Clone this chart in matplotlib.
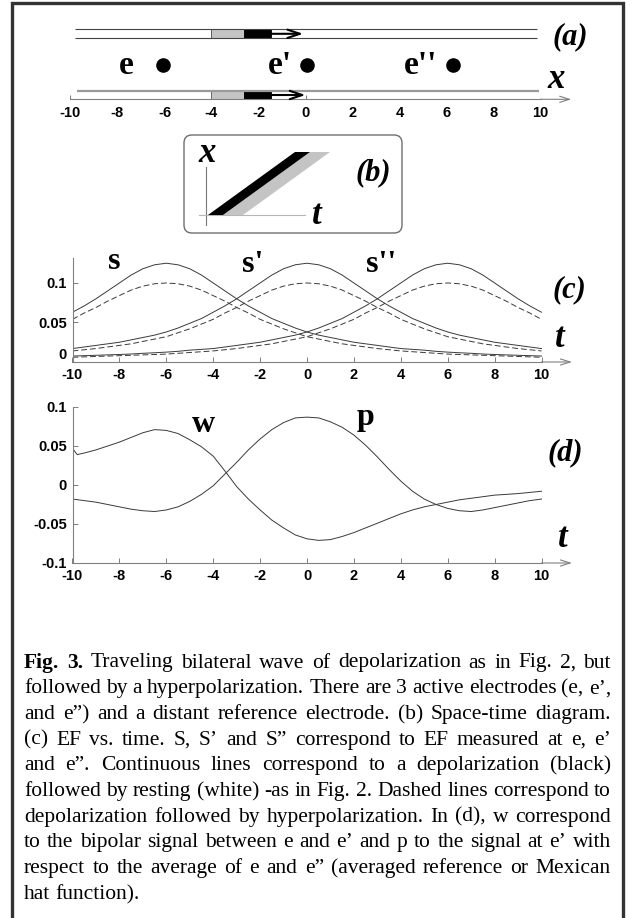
import matplotlib
matplotlib.use("Agg")
import matplotlib.pyplot as plt
from matplotlib.patches import Rectangle, FancyBboxPatch, Polygon

W, H, DPI = 638, 918, 100

# ---- data ----
# (a) cable with travelling wave and electrodes
electrode_x = [-6.07, 0.08, 6.26]
electrode_names = ["e", "e'", "e''"]
wave_gray = (-4.0, -2.63)     # resting / hyperpolarized tail of the front
wave_black = (-2.63, -1.45)   # depolarized part
wave_tip = -0.05

# (c) EF vs time at e, e', e''  (t from -10 to 10 in steps of 0.5)
t_c = [x / 2 for x in range(-20, 21)]
s_solid = [0.063, 0.071, 0.080, 0.090, 0.100, 0.110, 0.118, 0.123, 0.125, 0.123, 0.118,
           0.110, 0.100, 0.090, 0.080, 0.071, 0.063, 0.055, 0.049, 0.043, 0.038, 0.034,
           0.031, 0.028, 0.025, 0.023, 0.021, 0.019, 0.017, 0.016, 0.015, 0.0135, 0.0125,
           0.0117, 0.011, 0.0101, 0.0095, 0.009, 0.0085, 0.008, 0.0075]
s1_solid = [0.017, 0.019, 0.021, 0.023, 0.025, 0.028, 0.031, 0.034, 0.038, 0.043, 0.049,
            0.055, 0.063, 0.071, 0.080, 0.090, 0.100, 0.110, 0.118, 0.123, 0.125, 0.123,
            0.118, 0.110, 0.100, 0.090, 0.080, 0.071, 0.063, 0.055, 0.049, 0.043, 0.038,
            0.034, 0.031, 0.028, 0.025, 0.023, 0.021, 0.019, 0.017]
s2_solid = [0.0075, 0.008, 0.0085, 0.009, 0.0095, 0.0101, 0.011, 0.0117, 0.0125, 0.0135,
            0.015, 0.016, 0.017, 0.019, 0.021, 0.023, 0.025, 0.028, 0.031, 0.034, 0.038,
            0.043, 0.049, 0.055, 0.063, 0.071, 0.080, 0.090, 0.100, 0.110, 0.118, 0.123,
            0.125, 0.123, 0.118, 0.110, 0.100, 0.090, 0.080, 0.071, 0.063]
s_dash = [0.054, 0.062, 0.069, 0.077, 0.084, 0.091, 0.096, 0.099, 0.100, 0.099, 0.096,
          0.091, 0.084, 0.077, 0.069, 0.062, 0.054, 0.048, 0.042, 0.037, 0.032, 0.029,
          0.026, 0.023, 0.021, 0.019, 0.017, 0.0155, 0.014, 0.013, 0.012, 0.011, 0.010,
          0.0095, 0.009, 0.0085, 0.008, 0.0075, 0.007, 0.0065, 0.006]
s1_dash = [0.014, 0.0155, 0.017, 0.019, 0.021, 0.023, 0.026, 0.029, 0.032, 0.037, 0.042,
           0.048, 0.054, 0.062, 0.069, 0.077, 0.084, 0.091, 0.096, 0.099, 0.100, 0.099,
           0.096, 0.091, 0.084, 0.077, 0.069, 0.062, 0.054, 0.048, 0.042, 0.037, 0.032,
           0.029, 0.026, 0.023, 0.021, 0.019, 0.017, 0.0155, 0.014]
s2_dash = [0.006, 0.0065, 0.007, 0.0075, 0.008, 0.0085, 0.009, 0.0095, 0.010, 0.011, 0.012,
           0.013, 0.014, 0.0155, 0.017, 0.019, 0.021, 0.023, 0.026, 0.029, 0.032, 0.037,
           0.042, 0.048, 0.054, 0.062, 0.069, 0.077, 0.084, 0.091, 0.096, 0.099, 0.100,
           0.099, 0.096, 0.091, 0.084, 0.077, 0.069, 0.062, 0.054]

# (d) bipolar (w) and mexican hat (p) signals
t_w = [-10, -9.8] + [x / 2 for x in range(-19, 21)]
w = [0.047, 0.039, 0.041, 0.045, 0.050, 0.055, 0.061, 0.067, 0.071, 0.070, 0.066, 0.058,
     0.049, 0.037, 0.018, -0.002, -0.018, -0.032, -0.045, -0.055, -0.064, -0.069, -0.071,
     -0.070, -0.066, -0.061, -0.055, -0.049, -0.043, -0.037, -0.032, -0.028, -0.025, -0.022,
     -0.019, -0.017, -0.015, -0.013, -0.012, -0.011, -0.0095, -0.008]
t_p = [x / 2 for x in range(-20, 21)]
p = [-0.018, -0.020, -0.022, -0.025, -0.028, -0.031, -0.033, -0.034, -0.032, -0.028, -0.021,
     -0.012, -0.001, 0.014, 0.029, 0.045, 0.059, 0.071, 0.080, 0.086, 0.087, 0.086, 0.081,
     0.074, 0.064, 0.051, 0.036, 0.020, 0.005, -0.008, -0.018, -0.025, -0.030, -0.033,
     -0.034, -0.032, -0.029, -0.026, -0.023, -0.020, -0.018]

caption = [
    "Fig. 3. Traveling bilateral wave of depolarization as in Fig. 2, but",
    "followed by a hyperpolarization. There are 3 active electrodes (e, e\u2019,",
    "and e\u201d) and a distant reference electrode.  (b) Space-time diagram.",
    "(c) EF vs. time.  S, S\u2019 and S\u201d correspond to EF measured at e, e\u2019",
    "and e\u201d.  Continuous lines correspond to a depolarization (black)",
    "followed by resting (white) -as in Fig. 2. Dashed lines correspond to",
    "depolarization followed by hyperpolarization. In (d), w correspond",
    "to the bipolar signal between e and e\u2019 and p to the signal at e\u2019 with",
    "respect to the average of e and e\u201d (averaged reference or Mexican",
    "hat function).",
]

plt.rcParams["font.family"] = ["Liberation Sans", "DejaVu Sans"]
plt.rcParams["axes.unicode_minus"] = False
SERIF = "Liberation Serif"
LINE = "#3a3a3a"
AXC = "#808080"
TICK_SIZE = 10.5

fig = plt.figure(figsize=(W / DPI, H / DPI), dpi=DPI)


def px_axes(x0, y0, x1, y1):
    return fig.add_axes([x0 / W, 1 - y1 / H, (x1 - x0) / W, (y1 - y0) / H])


def axis_arrow(ax, y, x_end=11.3):
    ax.annotate("", xy=(x_end, y), xytext=(10, y), annotation_clip=False,
                arrowprops=dict(arrowstyle="->,head_length=0.7,head_width=0.22",
                                color=AXC, lw=0.8, shrinkA=0, shrinkB=0))


def style_axes(ax):
    for side in ("top", "right"):
        ax.spines[side].set_visible(False)
    for side in ("left", "bottom"):
        ax.spines[side].set_color(AXC)
        ax.spines[side].set_linewidth(0.8)
    ax.tick_params(direction="in", length=3.5, width=0.7, color=AXC,
                   labelsize=TICK_SIZE, pad=4)
    for lab in ax.get_xticklabels() + ax.get_yticklabels():
        lab.set_fontweight("bold")


# outer frame
fig.add_artist(Rectangle((12 / W, -0.05), (623 - 12) / W, 1.05 - 3 / H,
                         transform=fig.transFigure, fill=False, ec="#333333", lw=2.4))

# ---------------- (a) ----------------
ax_a = px_axes(70.4, 15, 540.7, 99.3)
ax_a.set_xlim(-10, 10)
ax_a.set_ylim(99.3, 15)
ax_a.patch.set_alpha(0)
for side in ("top", "right", "left"):
    ax_a.spines[side].set_visible(False)
ax_a.spines["bottom"].set_color(AXC)
ax_a.spines["bottom"].set_linewidth(0.8)
ax_a.set_xticks(range(-10, 11, 2))
ax_a.set_yticks([])
ax_a.tick_params(axis="x", length=0, labelsize=TICK_SIZE, pad=5)
for lab in ax_a.get_xticklabels():
    lab.set_fontweight("bold")
ax_a.vlines([-10, 0, 10], 95.5, 99.3, color=AXC, lw=0.8)
axis_arrow(ax_a, 99.3)

rod_arrow = dict(arrowstyle="->,head_length=0.9,head_width=0.3", color="black",
                 lw=1.5, shrinkA=0, shrinkB=0)
# upper cable
ax_a.hlines([29.3, 38.3], -9.8, 9.85, color="#444444", lw=0.8)
ax_a.add_patch(Rectangle((wave_gray[0], 29.3), wave_gray[1] - wave_gray[0], 9,
                         fc="#c4c4c4", ec="#444444", lw=0.6))
ax_a.add_patch(Rectangle((wave_black[0], 29.3), wave_black[1] - wave_black[0], 9,
                         fc="black", ec="black", lw=0.6))
ax_a.annotate("", xy=(wave_tip - 0.05, 33.8), xytext=(wave_black[1], 33.8), arrowprops=rod_arrow)
# lower cable (lying on the axis)
ax_a.hlines(90.7, -9.7, 9.93, color="#9a9a9a", lw=1.6)
ax_a.add_patch(Rectangle((wave_gray[0], 90.7), wave_gray[1] - wave_gray[0], 8.6,
                         fc="#c4c4c4", ec="#555555", lw=0.6))
ax_a.add_patch(Rectangle((wave_black[0], 90.7), wave_black[1] - wave_black[0], 8.6,
                         fc="black", ec="black", lw=0.6))
ax_a.annotate("", xy=(wave_tip + 0.05, 95.0), xytext=(wave_black[1], 95.0), arrowprops=rod_arrow)

ax_a.scatter(electrode_x, [65] * len(electrode_x), s=90, color="black", clip_on=False, zorder=3)
for name, lx in zip(electrode_names, [-7.64, -1.1, 4.9]):
    ax_a.text(lx, 65, name, fontsize=24, family=SERIF, weight="bold", ha="center", va="center")
ax_a.text(10.66, 80, "x", fontsize=25, family=SERIF, weight="bold", style="italic",
          ha="center", va="center", clip_on=False)
ax_a.text(11.24, 37, "(a)", fontsize=22, family=SERIF, weight="bold", style="italic",
          ha="center", va="center", clip_on=False)

# ---------------- (b) space-time schematic, pixel coordinates ----------------
ax_px = fig.add_axes([0, 0, 1, 1])
ax_px.set_xlim(0, W)
ax_px.set_ylim(H, 0)
ax_px.axis("off")
ax_px.patch.set_alpha(0)
ax_px.add_patch(FancyBboxPatch((184, 135), 218, 98, boxstyle="round,pad=0,rounding_size=8",
                               fc="white", ec="#6e6e6e", lw=1.0, zorder=1))
ax_px.plot([206, 206], [167, 225], color="#777777", lw=0.8, zorder=2)
ax_px.plot([199, 305], [215, 215], color="#b5b5b5", lw=0.8, zorder=2)
dx, dy = 87, -63
foot = [208, 223, 243]
ax_px.add_patch(Polygon([(foot[1], 215), (foot[2], 215), (foot[2] + dx, 215 + dy),
                         (foot[1] + dx, 215 + dy)], closed=True, fc="#c4c4c4", ec="none", zorder=3))
ax_px.add_patch(Polygon([(foot[0], 215), (foot[1], 215), (foot[1] + dx, 215 + dy),
                         (foot[0] + dx, 215 + dy)], closed=True, fc="black", ec="none", zorder=3))
ax_px.text(207, 153, "x", fontsize=25, family=SERIF, weight="bold", style="italic",
           ha="center", va="center", zorder=4)
ax_px.text(317, 216, "t", fontsize=25, family=SERIF, weight="bold", style="italic",
           ha="center", va="center", zorder=4)
ax_px.text(373, 173, "(b)", fontsize=22, family=SERIF, weight="bold", style="italic",
           ha="center", va="center", zorder=4)

# ---------------- (c) ----------------
ax_c = px_axes(72.5, 258, 541.5, 362)
ax_c.set_xlim(-10, 10)
ax_c.set_ylim(0, 0.1316)
ax_c.patch.set_alpha(0)
for ys in (s_solid, s1_solid, s2_solid):
    ax_c.plot(t_c, ys, color=LINE, lw=0.7)
for ys in (s_dash, s1_dash, s2_dash):
    ax_c.plot(t_c, ys, color=LINE, lw=0.7, dashes=(6, 3))
ax_c.set_xticks(range(-10, 11, 2))
ax_c.set_yticks([0, 0.05, 0.1])
ax_c.set_yticklabels(["0", "0.05", "0.1"])
style_axes(ax_c)
ax_c.get_yticklabels()[0].set_verticalalignment("bottom")  # keep "0" clear of "-10"
axis_arrow(ax_c, 0)
for txt, tx, ty in (("s", -8.23, 0.127), ("s'", -2.3, 0.123), ("s''", 3.15, 0.123)):
    ax_c.text(tx, ty, txt, fontsize=23, family=SERIF, weight="bold", ha="center", va="center",
              clip_on=False)
ax_c.text(11.2, 0.091, "(c)", fontsize=22, family=SERIF, weight="bold", style="italic",
          ha="center", va="center", clip_on=False)
ax_c.text(10.8, 0.030, "t", fontsize=25, family=SERIF, weight="bold", style="italic",
          ha="center", va="center", clip_on=False)

# ---------------- (d) ----------------
ax_d = px_axes(72.5, 407, 541.5, 563)
ax_d.set_xlim(-10, 10)
ax_d.set_ylim(-0.1, 0.1)
ax_d.patch.set_alpha(0)
ax_d.plot(t_w, w, color=LINE, lw=0.7)
ax_d.plot(t_p, p, color=LINE, lw=0.7)
ax_d.set_xticks(range(-10, 11, 2))
ax_d.set_yticks([-0.1, -0.05, 0, 0.05, 0.1])
ax_d.set_yticklabels(["-0.1", "-0.05", "0", "0.05", "0.1"])
style_axes(ax_d)
axis_arrow(ax_d, -0.1)
ax_d.text(-4.4, 0.077, "w", fontsize=23, family=SERIF, weight="bold", ha="center", va="center")
ax_d.text(2.5, 0.086, "p", fontsize=23, family=SERIF, weight="bold", ha="center", va="center")
ax_d.text(11.0, 0.042, "(d)", fontsize=22, family=SERIF, weight="bold", style="italic",
          ha="center", va="center", clip_on=False)
ax_d.text(10.9, -0.068, "t", fontsize=25, family=SERIF, weight="bold", style="italic",
          ha="center", va="center", clip_on=False)

# ---------------- caption (fully justified) ----------------
renderer = fig.canvas.get_renderer()
CAP_SIZE = 15.5
X_LEFT, X_RIGHT = 24, 611
for i, line in enumerate(caption):
    y = 1 - (663 + i * 25.7) / H
    words = line.split()
    texts, widths = [], []
    for j, word in enumerate(words):
        bold = (i == 0 and j < 2)
        t = fig.text(0, y, word, fontsize=CAP_SIZE, family=SERIF,
                     weight="bold" if bold else "normal", ha="left", va="center")
        texts.append(t)
        widths.append(t.get_window_extent(renderer).width)
    if i < len(caption) - 1 and len(words) > 1:
        gap = (X_RIGHT - X_LEFT - sum(widths)) / (len(words) - 1)
    else:
        gap = CAP_SIZE * DPI / 72 * 0.25
    x = X_LEFT
    for t, wd in zip(texts, widths):
        t.set_x(x / W)
        x += wd + gap

fig.savefig("out.png", dpi=DPI)
